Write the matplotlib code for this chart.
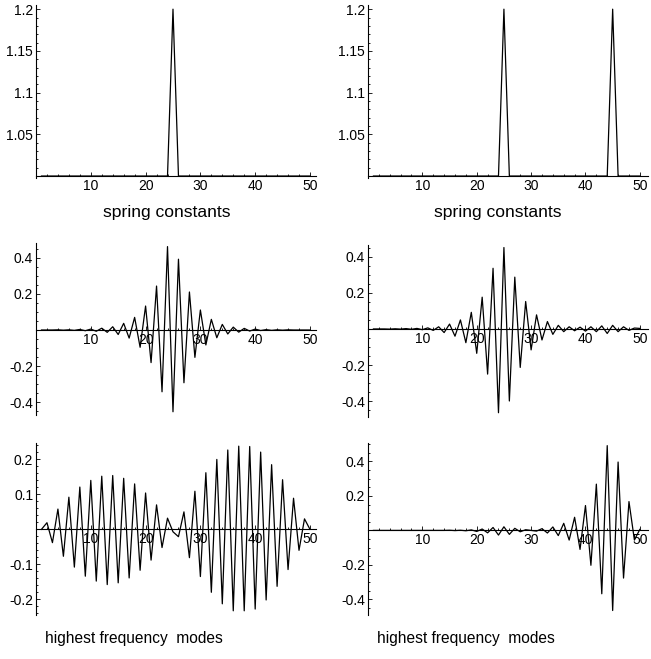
import matplotlib
matplotlib.use('Agg')
import matplotlib.pyplot as plt
from matplotlib.ticker import FixedLocator, MultipleLocator

plt.rcParams['font.family'] = ['Liberation Sans', 'DejaVu Sans']

# site index 1..50
sites = list(range(1, 51))

# spring constants (one weak spot / two weak spots)
springs_one = [1.0, 1.0, 1.0, 1.0, 1.0, 1.0, 1.0, 1.0, 1.0, 1.0,
               1.0, 1.0, 1.0, 1.0, 1.0, 1.0, 1.0, 1.0, 1.0, 1.0,
               1.0, 1.0, 1.0, 1.0, 1.2, 1.0, 1.0, 1.0, 1.0, 1.0,
               1.0, 1.0, 1.0, 1.0, 1.0, 1.0, 1.0, 1.0, 1.0, 1.0,
               1.0, 1.0, 1.0, 1.0, 1.0, 1.0, 1.0, 1.0, 1.0, 1.0]
springs_two = [1.0, 1.0, 1.0, 1.0, 1.0, 1.0, 1.0, 1.0, 1.0, 1.0,
               1.0, 1.0, 1.0, 1.0, 1.0, 1.0, 1.0, 1.0, 1.0, 1.0,
               1.0, 1.0, 1.0, 1.0, 1.2, 1.0, 1.0, 1.0, 1.0, 1.0,
               1.0, 1.0, 1.0, 1.0, 1.0, 1.0, 1.0, 1.0, 1.0, 1.0,
               1.0, 1.0, 1.0, 1.0, 1.2, 1.0, 1.0, 1.0, 1.0, 1.0]

# highest mode, one weak spot
mode1_one = [0.0, 0.0, 0.0, 0.001, -0.001, 0.001, -0.002, 0.003, -0.004, 0.005,
             -0.007, 0.010, -0.013, 0.018, -0.025, 0.037, -0.045, 0.070, -0.096, 0.133,
             -0.181, 0.244, -0.343, 0.463, -0.454, 0.393, -0.293, 0.211, -0.152, 0.111,
             -0.083, 0.059, -0.043, 0.031, -0.022, 0.016, -0.012, 0.009, -0.006, 0.005,
             -0.003, 0.002, -0.002, 0.001, -0.001, 0.001, 0.0, 0.0, 0.0, 0.0]
# second highest mode, one weak spot
mode2_one = [0.0, 0.019, -0.038, 0.058, -0.077, 0.092, -0.108, 0.121, -0.134, 0.140,
             -0.148, 0.152, -0.158, 0.154, -0.153, 0.146, -0.139, 0.130, -0.117, 0.104,
             -0.088, 0.070, -0.052, 0.032, -0.007, -0.021, 0.050, -0.081, 0.109, -0.135,
             0.162, -0.180, 0.200, -0.213, 0.227, -0.233, 0.238, -0.233, 0.237, -0.228,
             0.221, -0.202, 0.185, -0.163, 0.142, -0.115, 0.089, -0.060, 0.030, 0.0]

# highest mode, two weak spots
mode1_two = [0.0, 0.0, 0.0, -0.001, 0.001, -0.001, 0.002, -0.002, 0.003, -0.004,
             0.006, -0.008, 0.012, -0.020, 0.027, -0.040, 0.050, -0.076, 0.092, -0.135,
             0.176, -0.250, 0.336, -0.464, 0.451, -0.399, 0.287, -0.213, 0.152, -0.116,
             0.078, -0.061, 0.041, -0.030, 0.020, -0.015, 0.012, -0.010, 0.010, -0.012,
             0.012, -0.015, 0.017, -0.025, 0.020, -0.015, 0.012, -0.008, 0.005, 0.003]
# second highest mode, two weak spots
mode2_two = [0.0, 0.0, 0.0, 0.0, 0.0, 0.0, 0.0, 0.0, 0.0, 0.0,
             0.0, 0.0, 0.0, 0.0, 0.001, -0.001, 0.001, -0.002, 0.003, -0.006,
             0.008, -0.014, 0.017, -0.027, 0.021, -0.023, 0.012, -0.008, 0.004, 0.0,
             -0.004, 0.010, -0.015, 0.020, -0.030, 0.041, -0.056, 0.076, -0.110, 0.144,
             -0.202, 0.268, -0.367, 0.491, -0.464, 0.396, -0.276, 0.167, -0.056, 0.006]

x_ticks = [10, 20, 30, 40, 50]
x_labels = ['10', '20', '30', '40', '50']
spring_ticks = [1.05, 1.1, 1.15, 1.2]
spring_labels = ['1.05', '1.1', '1.15', '1.2']
mode_ticks = [-0.4, -0.2, 0.2, 0.4]
mode_labels = ['-0.4', '-0.2', '0.2', '0.4']
small_ticks = [-0.2, -0.1, 0.1, 0.2]
small_labels = ['-0.2', '-0.1', '0.1', '0.2']

W, H = 651, 659
fig = plt.figure(figsize=(W / 100, H / 100), dpi=100)


def panel(left, right, top, bottom, xlim, ylim, origin, y, yt, yl, yminor):
    ax = fig.add_axes([left / W, 1 - bottom / H, (right - left) / W, (bottom - top) / H])
    ax.plot(sites, y, color='black', lw=0.9, zorder=3, clip_on=False)
    ax.set_xlim(*xlim)
    ax.set_ylim(*ylim)
    for s in ['top', 'right']:
        ax.spines[s].set_visible(False)
    ax.spines['bottom'].set_position(('data', origin))
    ax.spines['left'].set_position(('data', 0))
    ax.spines['bottom'].set_linewidth(0.8)
    ax.spines['left'].set_linewidth(0.8)
    ax.xaxis.set_major_locator(FixedLocator(x_ticks))
    ax.set_xticklabels(x_labels)
    ax.xaxis.set_minor_locator(MultipleLocator(2))
    ax.yaxis.set_major_locator(FixedLocator(yt))
    ax.set_yticklabels(yl)
    ax.yaxis.set_minor_locator(MultipleLocator(yminor))
    ax.tick_params(which='both', direction='in', labelsize=10, width=0.6, pad=2)
    ax.tick_params(which='major', length=3)
    ax.tick_params(which='minor', length=1.6)
    ax.patch.set_visible(False)
    return ax


# top row: spring constants
panel(36, 316, 5, 177.7, (0, 51.1), (0.998, 1.205), 1.0,
      springs_one, spring_ticks, spring_labels, 0.01)
panel(368, 648, 5, 177.7, (0, 51.5), (0.998, 1.205), 1.0,
      springs_two, spring_ticks, spring_labels, 0.01)

# middle row
panel(36, 316, 243, 415, (0, 51.1), (-0.472, 0.483), 0.0,
      mode1_one, mode_ticks, mode_labels, 0.05)
panel(368, 648, 245, 416.7, (0, 51.5), (-0.486, 0.465), 0.0,
      mode1_two, mode_ticks, mode_labels, 0.05)

# bottom row
panel(36, 316, 443, 615, (0, 51.1), (-0.245, 0.247), 0.0,
      mode2_one, small_ticks, small_labels, 0.02)
panel(368, 648, 442.7, 615, (0, 51.5), (-0.49, 0.508), 0.0,
      mode2_two, mode_ticks, mode_labels, 0.05)

fig.text(167 / W, 1 - 212 / H, 'spring constants', ha='center', va='center', fontsize=12.6)
fig.text(498 / W, 1 - 212 / H, 'spring constants', ha='center', va='center', fontsize=12.6)
fig.text(134 / W, 1 - 638 / H, 'highest frequency  modes', ha='center', va='center', fontsize=11.2)
fig.text(466 / W, 1 - 638 / H, 'highest frequency  modes', ha='center', va='center', fontsize=11.2)

fig.savefig('out.png', dpi=100)
